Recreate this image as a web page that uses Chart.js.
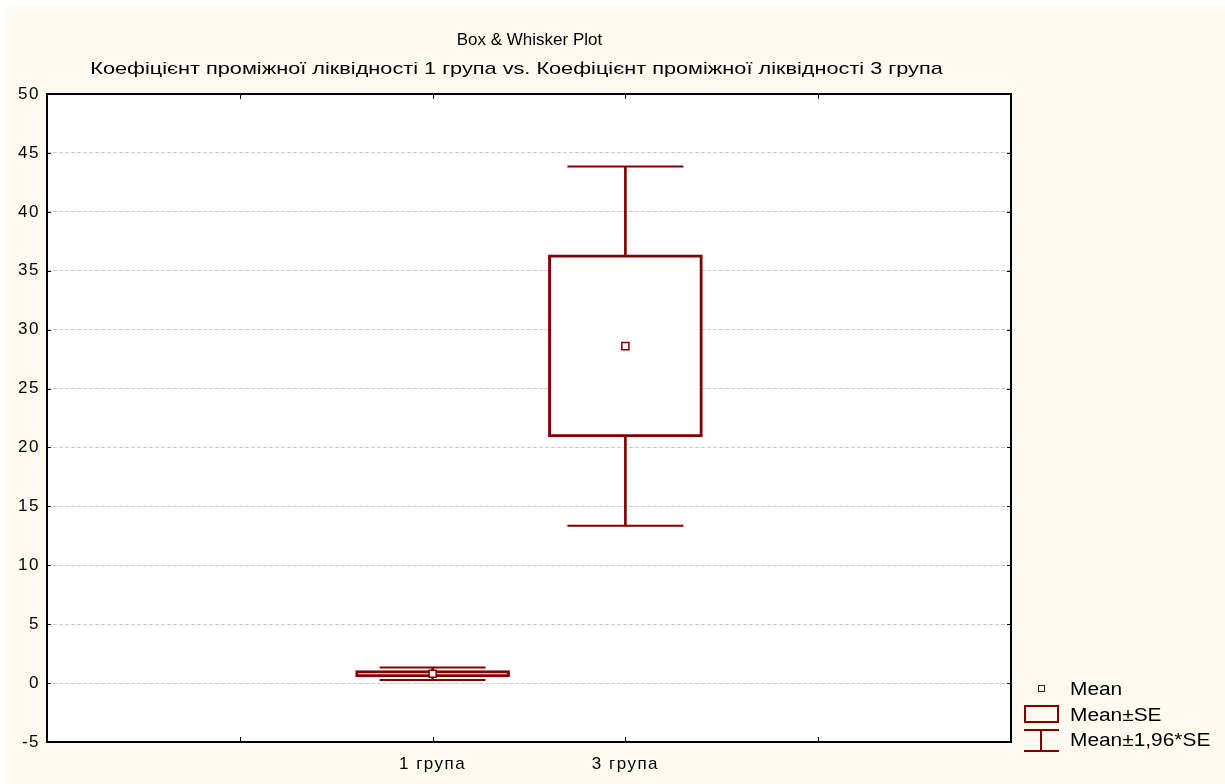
<!DOCTYPE html>
<html><head><meta charset="utf-8">
<script src="https://cdn.jsdelivr.net/npm/chart.js@4/dist/chart.umd.min.js"></script>
<style>
html,body{margin:0;padding:0;background:#fff;}
#wrap{position:relative;width:1225px;height:784px;overflow:hidden;}
#bg{position:absolute;left:5px;top:7px;right:0;bottom:0;background:#fffaf0;}
canvas{position:absolute;left:0;top:0;}
.t{position:absolute;font-family:"Liberation Sans",Arial,sans-serif;font-size:17px;line-height:18px;color:#000;white-space:nowrap;}
.lg{font-size:18px;transform:scaleX(1.16);transform-origin:0 50%;}
.sym{position:absolute;box-sizing:border-box;}
</style></head><body>
<div id="wrap">
<div id="bg"></div>
<canvas id="c" width="1225" height="784"></canvas>
<div class="t" style="left:0;width:1059px;top:31px;text-align:center;">Box &amp; Whisker Plot</div>
<div class="t" style="left:0;width:1033px;top:60px;text-align:center;transform:scaleX(1.277);transform-origin:516.5px 50%;">Коефіцієнт проміжної ліквідності 1 група vs. Коефіцієнт проміжної ліквідності 3 група</div>
<div class="sym" style="left:1038px;top:685px;width:7px;height:7px;border:1px solid #800000;background:#fff;"></div>
<div class="sym" style="left:1024px;top:705px;width:35px;height:18px;border:2px solid #800000;"></div>
<div class="sym" style="left:1024px;top:729px;width:35px;height:2px;background:#800000;"></div>
<div class="sym" style="left:1040px;top:729px;width:2px;height:23px;background:#800000;"></div>
<div class="sym" style="left:1024px;top:750px;width:35px;height:2px;background:#800000;"></div>
<div class="t lg" style="left:1070px;top:680px;">Mean</div>
<div class="t lg" style="left:1070px;top:706px;">Mean±SE</div>
<div class="t lg" style="left:1070px;top:731px;">Mean±1,96*SE</div>
</div>
<script>
// ---- data ----
const categories = ['1 група', '3 група'];
const means  = [0.80, 28.6];
const seLow  = [0.52, 20.9];
const seHigh = [1.07, 36.35];
const ciLow  = [0.27, 13.35];
const ciHigh = [1.33, 43.85];
const yMin = -5, yMax = 50, yStep = 5;

// ---- helpers ----
const MAROON = '#800000';
const FONT = {family: '"Liberation Sans", Arial, sans-serif', size: 17};
const xOf = i => i + 2;   // categories sit at 2,3 on a 0..5 axis
const capHalf = [53, 58];

const stems = categories.map((c, i) => ({x: xOf(i), y: [ciLow[i], ciHigh[i]]}));
const boxes = categories.map((c, i) => ({x: xOf(i), y: [seLow[i], seHigh[i]]}));
const caps = [];
categories.forEach((c, i) => {
  caps.push({x: xOf(i), y: ciLow[i], g: i});
  caps.push({x: xOf(i), y: ciHigh[i], g: i});
});
const meanPts = categories.map((c, i) => ({x: xOf(i), y: means[i]}));

const framePlugin = {
  id: 'frame',
  beforeInit(chart) { try { chart.ctx.letterSpacing = '1.5px'; } catch (e) {} },
  beforeDraw(chart) { try { chart.ctx.letterSpacing = '1.5px'; } catch (e) {} },
  beforeDatasetsDraw(chart) {
    const {ctx, chartArea: a} = chart;
    ctx.save();
    ctx.fillStyle = '#fff';
    ctx.globalCompositeOperation = 'destination-over';
    ctx.fillRect(a.left, a.top, a.right - a.left, a.bottom - a.top);
    ctx.restore();
  },
  afterDraw(chart) {
    const {ctx, chartArea: a, scales} = chart;
    ctx.save();
    ctx.strokeStyle = '#000';
    ctx.lineWidth = 2;
    ctx.strokeRect(a.left, a.top, a.right - a.left, a.bottom - a.top);
    ctx.lineWidth = 1;
    ctx.beginPath();
    scales.y.ticks.forEach(t => {
      const y = Math.round(scales.y.getPixelForValue(t.value)) + 0.5;
      ctx.moveTo(a.left, y); ctx.lineTo(a.left + 4, y);
      ctx.moveTo(a.right, y); ctx.lineTo(a.right - 4, y);
    });
    scales.x.ticks.forEach(t => {
      if (t.value <= scales.x.min || t.value >= scales.x.max) return;
      const x = Math.round(scales.x.getPixelForValue(t.value)) + 0.5;
      ctx.moveTo(x, a.bottom); ctx.lineTo(x, a.bottom - 5);
      ctx.moveTo(x, a.top); ctx.lineTo(x, a.top + 5);
    });
    ctx.stroke();
    ctx.restore();
  }
};

new Chart(document.getElementById('c'), {
  type: 'bar',
  data: {
    datasets: [
      {type: 'bar', data: stems, grouped: false, barThickness: 2, backgroundColor: MAROON, borderWidth: 0, order: 4},
      {type: 'bar', data: boxes, grouped: false, barThickness: 154, backgroundColor: '#fff', borderColor: MAROON, borderWidth: 3, borderSkipped: false, order: 3},
      {type: 'scatter', data: caps, pointStyle: 'line', borderColor: MAROON, borderWidth: 2,
        pointRadius: ctx => capHalf[ctx.raw ? ctx.raw.g : 0], pointHoverRadius: ctx => capHalf[ctx.raw ? ctx.raw.g : 0], order: 2},
      {type: 'scatter', data: meanPts, pointStyle: 'rect', pointRadius: 5, backgroundColor: '#fff', borderColor: MAROON, borderWidth: 1.5, order: 1}
    ]
  },
  options: {
    responsive: false, animation: false, devicePixelRatio: 1,
    layout: {autoPadding: false, padding: {left: 0, top: 94, right: 214, bottom: 0}},
    plugins: {legend: {display: false}, tooltip: {enabled: false}, title: {display: false}},
    scales: {
      x: {
        type: 'linear', min: 0, max: 5, offset: false,
        afterFit(s) { s.height = 42; },
        grid: {display: false, drawTicks: false, offset: false},
        border: {display: false},
        ticks: {stepSize: 1, autoSkip: false, maxRotation: 0, padding: 12, color: '#000', font: FONT,
          callback: v => { const i = v - 2; return (Number.isInteger(i) && categories[i]) ? categories[i] : ''; }}
      },
      y: {
        type: 'linear', min: yMin, max: yMax,
        afterFit(s) { s.width = 47; },
        grid: {color: '#c8c8c8', lineWidth: 1, drawTicks: false},
        border: {display: false, dash: [4, 2]},
        ticks: {stepSize: yStep, padding: 7, color: '#000', font: FONT}
      }
    }
  },
  plugins: [framePlugin]
});
</script>
</body></html>
